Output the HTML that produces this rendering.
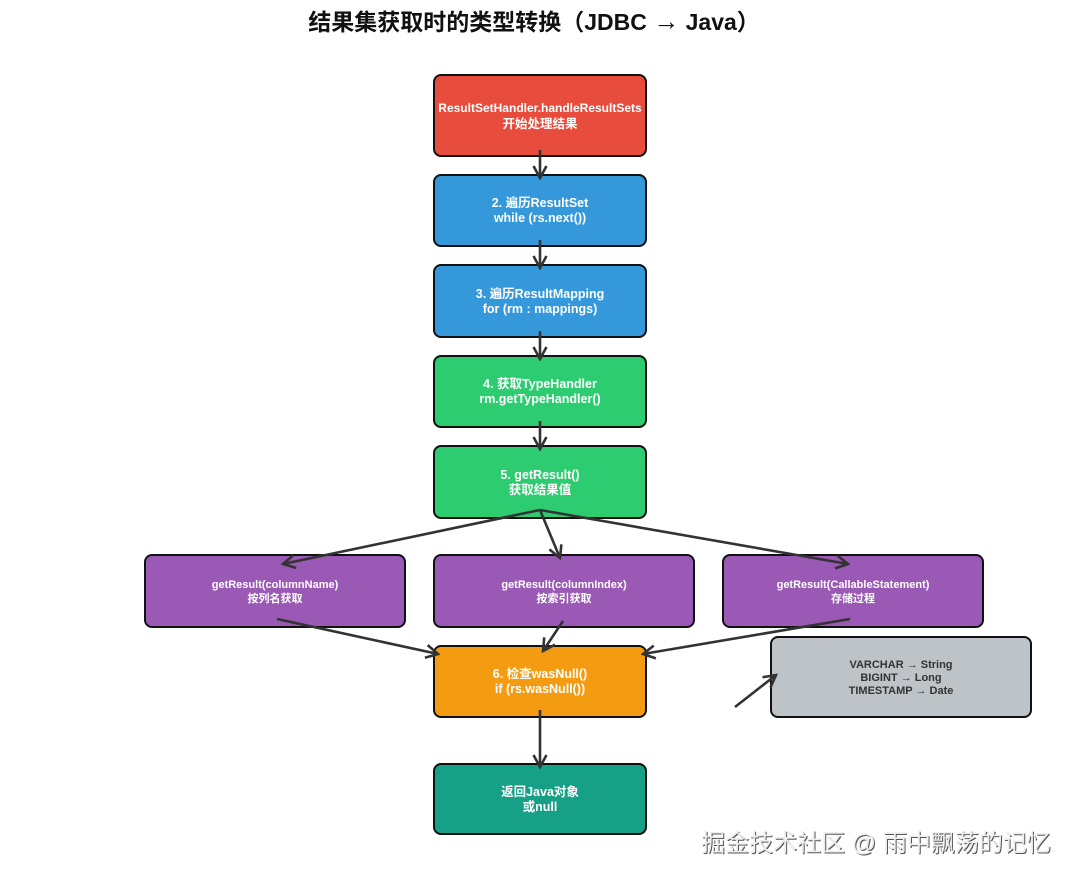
<!DOCTYPE html>
<html><head><meta charset="utf-8"><style>
html,body{margin:0;padding:0;background:#fff;}
svg{display:block;}
text{font-family:"Liberation Sans","Noto Sans CJK SC",sans-serif;}
</style></head><body>
<svg width="1080" height="882" viewBox="0 0 1080 882" xmlns="http://www.w3.org/2000/svg">
<defs>
<marker id="a" viewBox="0 0 16 16" refX="14" refY="8" markerWidth="16" markerHeight="16" markerUnits="userSpaceOnUse" orient="auto">
<path d="M2,1.5 L14,8 L2,14.5" fill="none" stroke="#333" stroke-width="2.6"/>
</marker>
</defs>
<text x="534" y="30" text-anchor="middle" font-size="23" font-weight="bold" fill="#111">结果集获取时的类型转换（JDBC <tspan font-size="26">→</tspan> Java）</text>
<g stroke="#111" stroke-width="2">
<rect x="434" y="75" width="212" height="81" rx="7" fill="#e74c3c"/>
<rect x="434" y="175" width="212" height="71" rx="7" fill="#3498db"/>
<rect x="434" y="265" width="212" height="72" rx="7" fill="#3498db"/>
<rect x="434" y="356" width="212" height="71" rx="7" fill="#2ecc71"/>
<rect x="434" y="446" width="212" height="72" rx="7" fill="#2ecc71"/>
<rect x="145" y="555" width="260" height="72" rx="7" fill="#9b59b6"/>
<rect x="434" y="555" width="260" height="72" rx="7" fill="#9b59b6"/>
<rect x="723" y="555" width="260" height="72" rx="7" fill="#9b59b6"/>
<rect x="434" y="646" width="212" height="71" rx="7" fill="#f39c12"/>
<rect x="434" y="764" width="212" height="70" rx="7" fill="#16a085"/>
<rect x="771" y="637" width="260" height="80" rx="7" fill="#bdc3c7"/>
</g>
<g stroke="#333" stroke-width="2.6" fill="none" marker-end="url(#a)">
<line x1="540" y1="150" x2="540" y2="178"/>
<line x1="540" y1="240" x2="540" y2="268"/>
<line x1="540" y1="331" x2="540" y2="359"/>
<line x1="540" y1="421" x2="540" y2="449"/>
<line x1="540" y1="510" x2="283" y2="564"/>
<line x1="540" y1="510" x2="560" y2="558"/>
<line x1="540" y1="510" x2="848" y2="564"/>
<line x1="277" y1="619" x2="438" y2="654"/>
<line x1="563" y1="621" x2="543" y2="651"/>
<line x1="850" y1="619" x2="643" y2="654"/>
<line x1="540" y1="710" x2="540" y2="767"/>
<line x1="735" y1="707" x2="776" y2="675"/>
</g>
<g fill="#fff" font-weight="bold" text-anchor="middle" font-size="12.5">
<text x="540" y="112" font-size="12">ResultSetHandler.handleResultSets</text>
<text x="540" y="128">开始处理结果</text>
<text x="540" y="207">2. 遍历ResultSet</text>
<text x="540" y="222">while (rs.next())</text>
<text x="540" y="298">3. 遍历ResultMapping</text>
<text x="540" y="313">for (rm : mappings)</text>
<text x="540" y="388">4. 获取TypeHandler</text>
<text x="540" y="403">rm.getTypeHandler()</text>
<text x="540" y="479">5. getResult()</text>
<text x="540" y="494">获取结果值</text>
<text x="540" y="678">6. 检查wasNull()</text>
<text x="540" y="693">if (rs.wasNull())</text>
<text x="540" y="796">返回Java对象</text>
<text x="540" y="811">或null</text>
<g font-size="11">
<text x="275" y="588">getResult(columnName)</text>
<text x="275" y="602">按列名获取</text>
<text x="564" y="588">getResult(columnIndex)</text>
<text x="564" y="602">按索引获取</text>
<text x="853" y="588">getResult(CallableStatement)</text>
<text x="853" y="602">存储过程</text>
</g>
</g>
<g fill="#333" font-weight="bold" text-anchor="middle" font-size="11">
<text x="901" y="668">VARCHAR → String</text>
<text x="901" y="681">BIGINT → Long</text>
<text x="901" y="694">TIMESTAMP → Date</text>
</g>
<text x="877" y="852" text-anchor="middle" font-size="24" fill="#555">掘金技术社区 @ 雨中飘荡的记忆</text>
<text x="876" y="851" text-anchor="middle" font-size="24" fill="#eee">掘金技术社区 @ 雨中飘荡的记忆</text>
</svg>
</body></html>
